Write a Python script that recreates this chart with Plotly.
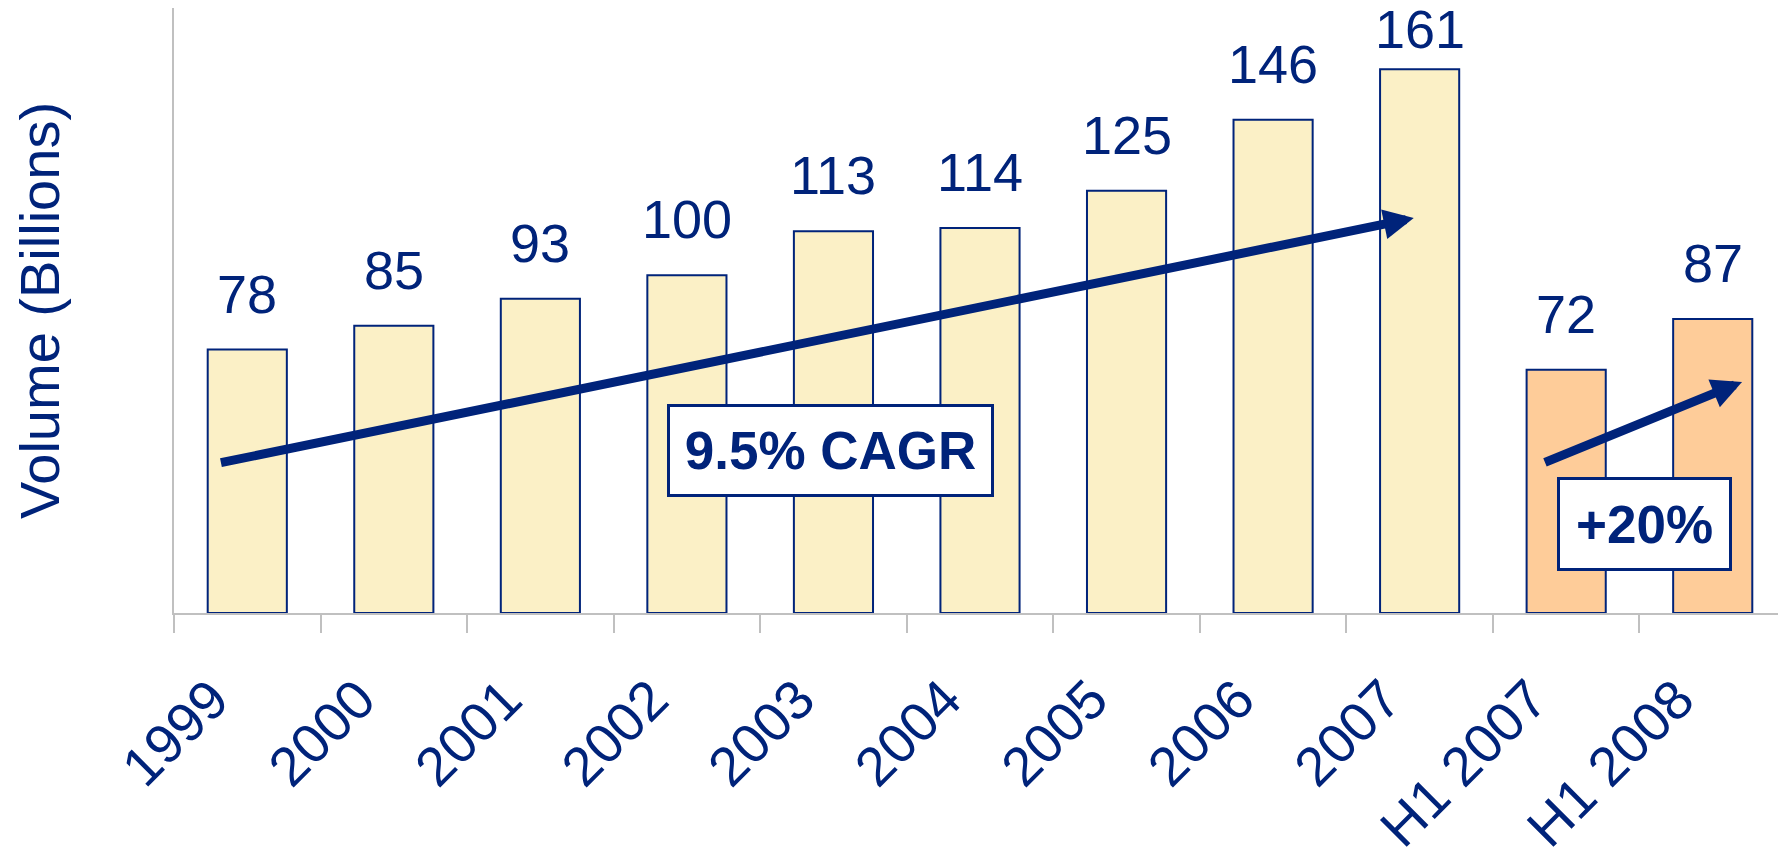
import plotly.graph_objects as go

categories = ["1999", "2000", "2001", "2002", "2003", "2004", "2005", "2006", "2007", "H1 2007", "H1 2008"]
values = [78, 85, 93, 100, 113, 114, 125, 146, 161, 72, 87]
is_half_year = [False] * 9 + [True, True]

NAVY = "#00237A"
YELLOW = "#FBF0C6"
PEACH = "#FECC99"
GRAY = "#C0C0C0"
FONT = "Arial, Liberation Sans, sans-serif"

fig = go.Figure()
fig.add_trace(go.Bar(
    x=categories,
    y=values,
    marker=dict(color=[PEACH if h else YELLOW for h in is_half_year],
                line=dict(color=NAVY, width=2)),
    hoverinfo="x+y",
))

annotations = []
top = max(values)
for i, v in enumerate(values):
    annotations.append(dict(
        x=i, y=v, xref="x", yref="y", text=str(v), showarrow=False,
        yanchor="bottom", yshift=(8 if v == top else 24),
        font=dict(family=FONT, size=54, color=NAVY),
    ))

# growth arrows (from start index/value to end index/value)
arrows = [
    dict(start=(-0.19, 44.4), end=(7.96, 116.9)),
    dict(start=(8.845, 44.4), end=(10.2, 68.4)),
]
for a in arrows:
    annotations.append(dict(
        x=a["end"][0], y=a["end"][1], ax=a["start"][0], ay=a["start"][1],
        xref="x", yref="y", axref="x", ayref="y", text="",
        showarrow=True, arrowhead=2, arrowsize=0.67, arrowwidth=9,
        arrowcolor=NAVY,
    ))

# boxed labels
boxes = [
    dict(text="<b>9.5% CAGR</b>", pos=(3.98, 48.1), w=321, h=87),
    dict(text="<b>+20%</b>", pos=(9.537, 26.3), w=169, h=88),
]
for b in boxes:
    annotations.append(dict(
        x=b["pos"][0], y=b["pos"][1], xref="x", yref="y", text=b["text"],
        showarrow=False, xanchor="center", yanchor="middle",
        width=b["w"], height=b["h"], align="center", valign="middle",
        bgcolor="white", bordercolor=NAVY, borderwidth=3, borderpad=0,
        font=dict(family=FONT, size=53, color=NAVY),
    ))

fig.update_layout(
    width=1778, height=846,
    margin=dict(l=166, r=0, t=0, b=241),
    paper_bgcolor="white", plot_bgcolor="white",
    bargap=0.46,
    showlegend=False,
    annotations=annotations,
    xaxis=dict(
        type="category", range=[-0.5, 10.5], automargin=False,
        tickson="boundaries", ticks="outside", ticklen=18, tickwidth=2,
        tickcolor=GRAY, showline=True, linecolor=GRAY, linewidth=2,
        tickangle=-45, showgrid=False,
        ticklabelstandoff=30, ticklabelshift=-35,
        tickfont=dict(family=FONT, size=55, color=NAVY),
    ),
    yaxis=dict(
        range=[0, 179.1], showgrid=False, zeroline=False, automargin=False,
        showticklabels=False, ticks="", showline=True,
        linecolor=GRAY, linewidth=2,
        title=dict(text="Volume (Billions)", standoff=100,
                   font=dict(family=FONT, size=56, color=NAVY)),
    ),
)

fig.write_html("out.html")
